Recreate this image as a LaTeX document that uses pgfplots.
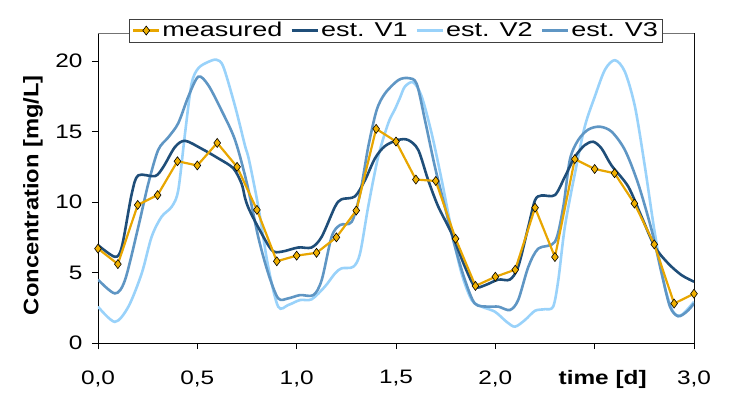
\documentclass[border=0pt]{standalone}
\usepackage{pgfplots}
\pgfplotsset{compat=1.18}
\usepackage{fontspec}
\setmainfont{Liberation Sans}[FakeStretch=1.25]
\newfontfamily\legfont{Liberation Sans}[FakeStretch=1.35]
\newfontfamily\labfont{Liberation Sans}[FakeStretch=1.13]
\definecolor{meas}{RGB}{232,166,0}
\definecolor{measfill}{RGB}{240,176,0}
\definecolor{vone}{RGB}{31,78,121}
\definecolor{vtwo}{RGB}{153,210,250}
\definecolor{vthree}{RGB}{95,150,196}
\begin{document}
\begin{tikzpicture}
\begin{axis}[
  width=596pt, height=310pt, scale only axis,
  xmin=0, xmax=3, ymin=0, ymax=22,
  axis line style={black, line width=0.8pt},
  tick pos=left,
  tick align=outside,
  major tick length=6pt,
  major tick style={black, line width=0.8pt},
  xtick={0,0.5,1,1.5,2,2.5,3},
  xticklabels={{0,0},{0,5},{1,0},{1,5},{2,0},{\hspace*{16pt}\bfseries time [d]},{3,0}},
  ytick={0,5,10,15,20},
  yticklabels={0,5,10,15,20},
  ticklabel style={font=\fontsize{19.5}{22}\selectfont},
  xticklabel style={yshift=-18pt},
  yticklabel style={xshift=-6pt},
  ylabel={\labfont\bfseries\fontsize{21}{24}\selectfont Concentration [mg/L]},
  ylabel style={at={(axis description cs:-0.109,0.477)}, anchor=center},
  legend columns=4,
  legend style={at={(axis description cs:0.5,1)}, anchor=center, yshift=2.5pt,
    draw=black!75, fill=white, line width=0.8pt,
    font=\legfont\fontsize{20}{22}\selectfont,
    inner xsep=3pt, inner ysep=1.5pt,
    /tikz/every even column/.append style={column sep=6pt}},
  legend image code/.code={\draw[mark repeat=2,mark phase=2,#1] plot coordinates {(0pt,0pt) (13pt,0pt) (26pt,0pt)};},
]
\coordinate (O) at (rel axis cs:0,0);
\addlegendimage{meas, line width=2.2pt, mark=diamond*, mark size=4.5pt, mark options={fill=measfill, draw=black, line width=0.6pt}}
\addlegendimage{vone, line width=2.6pt}
\addlegendimage{vtwo, line width=2.6pt}
\addlegendimage{vthree, line width=2.6pt}
\legend{measured, est. V1, est. V2, est. V3}

% est. V2
\addplot[vtwo, line width=2.6pt, smooth, forget plot] coordinates {
(0.00,2.58) (0.085,1.5) (0.153,2.58) (0.22,4.94) (0.27,7.54) (0.32,8.96) (0.371,9.67)
(0.404,10.85) (0.438,14.87) (0.471,18.4) (0.505,19.5) (0.555,19.95) (0.597,20.1) (0.631,19.6)
(0.69,16.8) (0.74,14.0) (0.76,13.0) (0.807,9.67) (0.857,5.4) (0.907,2.58) (0.958,2.7)
(1.017,3.05) (1.075,3.1) (1.142,4.0) (1.193,4.94) (1.226,5.3) (1.285,5.41) (1.319,6.36)
(1.36,9.67) (1.41,13.2) (1.461,15.6) (1.495,16.6) (1.52,17.4) (1.545,18.2) (1.587,18.5)
(1.629,17.5) (1.679,14.9) (1.73,11.56) (1.78,8.0) (1.83,4.94) (1.881,3.05) (1.931,2.58)
(1.998,2.22) (2.057,1.5) (2.099,1.16) (2.149,1.63) (2.2,2.29) (2.25,2.4) (2.291,2.58)
(2.317,4.47) (2.35,8.25) (2.4,12.0) (2.45,15.35) (2.501,17.5) (2.552,19.4) (2.602,20.07)
(2.652,19.25) (2.703,16.76) (2.753,12.5) (2.803,7.78) (2.853,4.0) (2.895,2.22) (2.937,1.99)
(3.0,2.93)};

% est. V3
\addplot[vthree, line width=2.6pt, smooth, forget plot] coordinates {
(0.00,4.5) (0.085,3.52) (0.136,4.47) (0.203,8.25) (0.253,11.3) (0.303,13.7) (0.354,14.6)
(0.404,15.6) (0.455,17.5) (0.505,18.9) (0.555,18.3) (0.622,16.5) (0.69,14.4) (0.75,11.3)
(0.807,7.5) (0.857,4.94) (0.907,3.17) (0.958,3.17) (1.017,3.4) (1.084,3.4) (1.126,4.47)
(1.176,7.54) (1.218,8.37) (1.277,8.6) (1.319,10.6) (1.36,13.9) (1.402,16.5) (1.444,17.7)
(1.511,18.65) (1.562,18.8) (1.604,18.4) (1.646,15.8) (1.696,12.5) (1.746,9.67) (1.797,6.83)
(1.847,4.47) (1.897,2.8) (1.964,2.58) (2.015,2.58) (2.073,2.34) (2.115,3.05) (2.166,5.4)
(2.216,6.7) (2.3,7.18) (2.342,9.67) (2.375,13.0) (2.417,14.4) (2.468,15.15) (2.526,15.35)
(2.585,15.0) (2.652,13.7) (2.719,11.3) (2.787,8.0) (2.837,4.94) (2.879,2.58) (2.92,1.9)
(2.963,2.22) (3.0,2.8)};

% est. V1
\addplot[vone, line width=2.6pt, smooth, forget plot] coordinates {
(0.00,6.95) (0.085,6.12) (0.12,6.83) (0.17,10.6) (0.203,11.9) (0.287,11.84) (0.329,12.5)
(0.387,13.9) (0.438,14.35) (0.52,13.8) (0.606,13.1) (0.681,12.4) (0.723,11.3) (0.74,10.3)
(0.76,9.5) (0.807,8.2) (0.874,6.6) (0.924,6.48) (1.008,6.78) (1.075,6.78) (1.126,7.54)
(1.193,9.67) (1.226,10.2) (1.293,10.4) (1.344,11.56) (1.394,13.1) (1.444,13.97) (1.511,14.42)
(1.562,14.4) (1.612,13.7) (1.662,11.56) (1.713,9.67) (1.78,7.78) (1.847,5.41) (1.897,4.0)
(1.948,4.1) (2.015,4.5) (2.073,4.5) (2.115,5.41) (2.166,8.25) (2.2,10.14) (2.233,10.47)
(2.3,10.5) (2.35,11.8) (2.4,13.2) (2.45,14.04) (2.493,14.28) (2.535,13.8) (2.585,12.6)
(2.669,11.1) (2.736,8.96) (2.803,6.83) (2.87,5.65) (2.937,4.82) (3.0,4.35)};

% measured
\addplot[meas, line width=2.2pt, mark=diamond*, mark size=4.5pt,
  mark options={fill=measfill, draw=black, line width=0.6pt}, forget plot] coordinates {
(0.0,6.7) (0.1,5.6) (0.2,9.8) (0.3,10.5) (0.4,12.9) (0.5,12.6) (0.6,14.2) (0.7,12.5)
(0.8,9.45) (0.9,5.8) (1.0,6.2) (1.1,6.4) (1.2,7.5) (1.3,9.4) (1.4,15.2) (1.5,14.3)
(1.6,11.6) (1.7,11.5) (1.8,7.4) (1.9,4.05) (2.0,4.7) (2.1,5.2) (2.2,9.6) (2.3,6.1)
(2.4,13.05) (2.5,12.35) (2.6,12.05) (2.7,9.9) (2.8,7.0) (2.9,2.8) (3.0,3.5)};

\draw[black!55, line width=0.9pt] (rel axis cs:0,1) -- (rel axis cs:1,1) -- (rel axis cs:1,0);
\end{axis}
\pgfresetboundingbox
\path (O) ++(-98pt,-49pt) rectangle ++(735pt,392pt);
\end{tikzpicture}
\end{document}
